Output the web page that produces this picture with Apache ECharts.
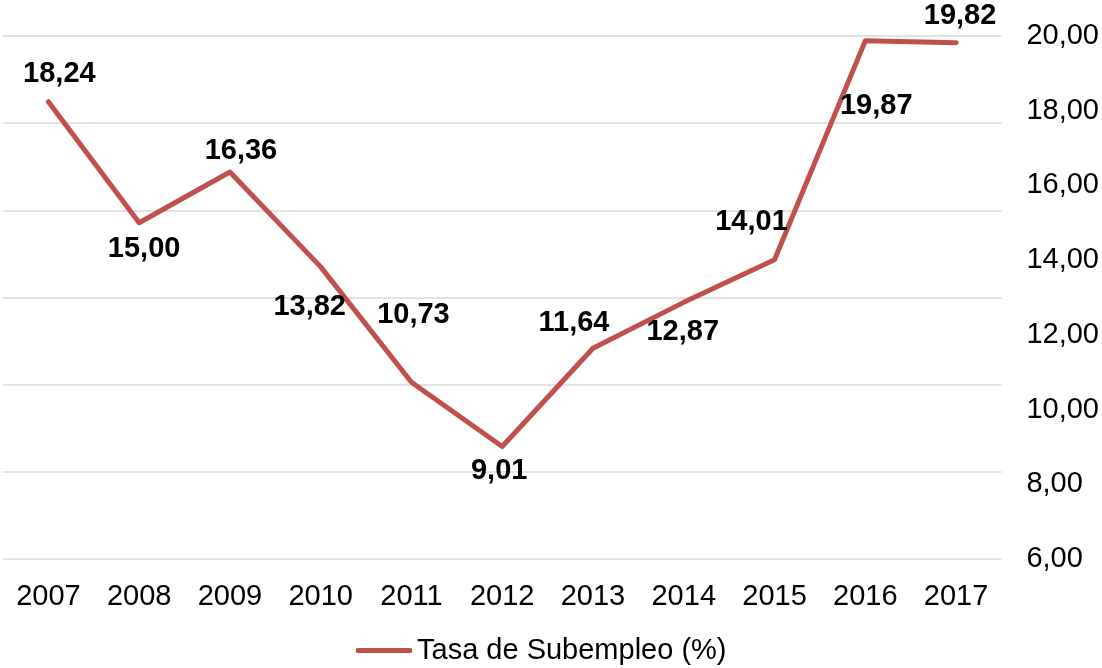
<!DOCTYPE html>
<html>
<head>
<meta charset="utf-8">
<script src="https://cdn.jsdelivr.net/npm/echarts@6/dist/echarts.min.js"></script>
<style>
html,body{margin:0;padding:0;background:#fff;}
#chart{width:1102px;height:668px;}
</style>
</head>
<body>
<div id="chart"></div>
<script>
const categories = ['2007','2008','2009','2010','2011','2012','2013','2014','2015','2016','2017'];
const seriesName = 'Tasa de Subempleo (%)';
const values = [18.24, 15.00, 16.36, 13.82, 10.73, 9.01, 11.64, 12.87, 14.01, 19.87, 19.82];
const yMin = 6, yMax = 20, yStep = 2;
// label placement offsets (px) relative to each point
const labelOffsets = [[11,-28],[5,26],[11,-21],[-11,40],[2,-67],[-3,24],[-19,-25],[-1,30],[-23,-38],[11,65],[4,-27]];

const fmt = v => v.toFixed(2).replace('.', ',');
const FONT = 'Liberation Sans, Arial, sans-serif';
const RED = '#C0504D';

const chart = echarts.init(document.getElementById('chart'), null, {renderer:'canvas'});
chart.setOption({
  animation:false,
  backgroundColor:'#fff',
  grid:{left:3, right:99, top:36, bottom:109, containLabel:false},
  legend:{
    data:[{name:seriesName, icon:'roundRect'}],
    left:351, top:631,
    itemWidth:56, itemHeight:5,
    textStyle:{fontFamily:FONT, fontSize:29, color:'#000'}
  },
  xAxis:{
    type:'category', data:categories, boundaryGap:true,
    axisLine:{show:false}, axisTick:{show:false},
    axisLabel:{fontFamily:FONT, fontSize:29, color:'#000', margin:23}
  },
  yAxis:[{
    type:'value', position:'right', min:yMin, max:yMax, interval:yStep,
    axisLine:{show:false}, axisTick:{show:false}, splitLine:{show:false},
    axisLabel:{fontFamily:FONT, fontSize:29, color:'#000', margin:25, formatter:fmt}
  },{
    type:'value', position:'left', min:0, max:6, interval:1,
    axisLine:{show:false}, axisTick:{show:false}, axisLabel:{show:false},
    splitLine:{show:true, lineStyle:{color:'#D9D9D9', width:1.5}}
  }],
  series:[{
    name:seriesName, type:'line', yAxisIndex:0,
    data: values.map((v,i)=>({value:v, label:{offset:labelOffsets[i]}})),
    symbol:'circle', symbolSize:0.01, showSymbol:true,
    itemStyle:{color:RED},
    lineStyle:{color:RED, width:5, cap:'round', join:'round'},
    label:{show:true, position:'inside', fontFamily:FONT, fontSize:29, fontWeight:'bold', color:'#000',
      formatter:p=>fmt(p.value)},
    emphasis:{disabled:true}
  }]
});
</script>
</body>
</html>
